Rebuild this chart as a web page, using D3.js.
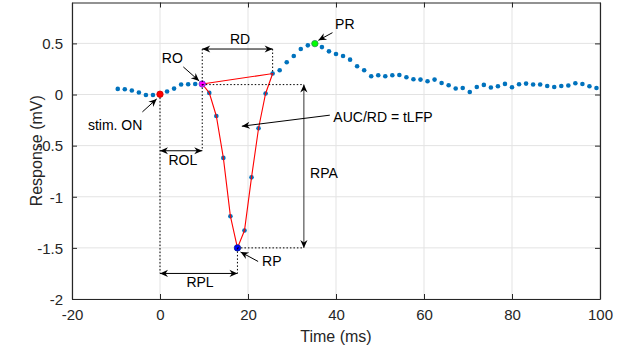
<!DOCTYPE html>
<html>
<head>
<meta charset="utf-8">
<script src="https://cdn.jsdelivr.net/npm/d3@7"></script>
<style>
  html, body { margin: 0; padding: 0; background: #fff; }
  svg { display: block; font-family: "Liberation Sans", Arial, Helvetica, sans-serif; }
</style>
</head>
<body>
<svg id="chart" width="626" height="347"></svg>
<script>
// ---- data ----
const times = [-9.6, -8.0, -6.4, -4.8, -3.2, -1.6, 0.0, 1.6, 3.2, 4.8, 6.4, 8.0, 9.6, 11.2, 12.8, 14.4,
  16.0, 17.6, 19.2, 20.8, 22.4, 24.0, 25.6, 27.2, 28.8, 30.4, 32.0, 33.6, 35.2, 36.8, 38.4, 40.0,
  41.6, 43.2, 44.8, 46.4, 48.0, 49.6, 51.2, 52.8, 54.4, 56.0, 57.6, 59.2, 60.8, 62.4, 64.0, 65.6,
  67.2, 68.8, 70.4, 72.0, 73.6, 75.2, 76.8, 78.4, 80.0, 81.6, 83.2, 84.8, 86.4, 88.0, 89.6, 91.2,
  92.8, 94.4, 96.0, 97.6, 99.2];
const response = [0.055, 0.052, 0.039, 0.020, -0.004, -0.004, 0.003, 0.029, 0.058, 0.098, 0.100, 0.103, 0.103, 0.016, -0.21, -0.62,
  -1.19, -1.50, -1.33, -0.81, -0.33, 0.010, 0.205, 0.237, 0.315, 0.377, 0.445, 0.481, 0.498, 0.464, 0.422, 0.396,
  0.377, 0.341, 0.276, 0.237, 0.179, 0.188, 0.179, 0.188, 0.191, 0.169, 0.149, 0.146, 0.130, 0.146, 0.113, 0.091,
  0.059, 0.064, 0.025, 0.074, 0.094, 0.068, 0.081, 0.104, 0.071, 0.100, 0.107, 0.098, 0.098, 0.084, 0.074, 0.084,
  0.088, 0.110, 0.103, 0.081, 0.064];
const xTicks = [-20, 0, 20, 40, 60, 80, 100];
const yTicks = [-2, -1.5, -1, -0.5, 0, 0.5];
const xDomain = [-20, 100];
const yDomain = [-2, 0.9];
// key event times (ms)
const stimTime = 0.0, roTime = 9.6, rpTime = 17.6, prTime = 35.2, responseEnd = 25.6;

// ---- layout ----
const svg = d3.select("#chart");
const L = 72, R = 600, T = 2.5, B = 299;
const x = d3.scaleLinear().domain(xDomain).range([L, R]);
const y = d3.scaleLinear().domain(yDomain).range([B, T]);
const axisColor = "#262626";

// grid
const grid = svg.append("g");
grid.selectAll("line.gx").data(xTicks).join("line")
  .attr("x1", d => x(d)).attr("x2", d => x(d)).attr("y1", T).attr("y2", B)
  .attr("stroke", "#e3e3e3").attr("stroke-width", 1);
grid.selectAll("line.gy").data(yTicks).join("line")
  .attr("y1", d => y(d)).attr("y2", d => y(d)).attr("x1", L).attr("x2", R)
  .attr("stroke", "#e3e3e3").attr("stroke-width", 1);

// axes
const fmt = d => String(d);
const xAxis = svg.append("g").attr("transform", `translate(0,${B})`)
  .call(d3.axisBottom(x).tickValues(xTicks).tickFormat(fmt).tickSizeInner(-5).tickSizeOuter(0).tickPadding(10));
const yAxis = svg.append("g").attr("transform", `translate(${L},0)`)
  .call(d3.axisLeft(y).tickValues(yTicks).tickFormat(fmt).tickSizeInner(-5).tickSizeOuter(0).tickPadding(9));
const xTop = svg.append("g").attr("transform", `translate(0,${T})`)
  .call(d3.axisTop(x).tickValues(xTicks).tickFormat("").tickSizeInner(-5).tickSizeOuter(0));
const yRight = svg.append("g").attr("transform", `translate(${R},0)`)
  .call(d3.axisRight(y).tickValues(yTicks).tickFormat("").tickSizeInner(-5).tickSizeOuter(0));
[xAxis, yAxis, xTop, yRight].forEach(g => {
  g.select(".domain").attr("stroke", axisColor).attr("stroke-width", 1.2);
  g.selectAll(".tick line").attr("stroke", axisColor);
  g.selectAll(".tick text").attr("fill", axisColor).attr("font-size", 15)
    .attr("font-family", "'Liberation Sans', Arial, sans-serif");
});
yAxis.selectAll(".tick text").attr("dy", "0.35em");

// axis labels
svg.append("text").attr("x", (L + R) / 2).attr("y", 342).attr("text-anchor", "middle")
  .attr("font-size", 16).attr("fill", axisColor).text("Time (ms)");
svg.append("text").attr("transform", `translate(42,${(T + B) / 2}) rotate(-90)`)
  .attr("text-anchor", "middle").attr("font-size", 16).attr("fill", axisColor).text("Response (mV)");

// ---- data points ----
const pts = times.map((t, i) => ({ t, v: response[i] }));
svg.append("g").selectAll("circle").data(pts).join("circle")
  .attr("cx", d => x(d.t)).attr("cy", d => y(d.v)).attr("r", 2.3).attr("fill", "#0072BD");

// red response polygon
const poly = pts.filter(d => d.t >= roTime - 0.01 && d.t <= responseEnd + 0.01);
svg.append("path")
  .attr("d", d3.line().x(d => x(d.t)).y(d => y(d.v))(poly.concat([poly[0]])))
  .attr("fill", "none").attr("stroke", "#ff0000").attr("stroke-width", 1.1);

const at = t => pts.find(d => Math.abs(d.t - t) < 0.01);
const special = [
  { p: at(stimTime), fill: "#ff0000", stroke: "#d00000" },
  { p: at(roTime), fill: "#ff00ff", stroke: "#6a3dc8" },
  { p: at(rpTime), fill: "#0000ff", stroke: "#00208a" },
  { p: at(prTime), fill: "#00ff00", stroke: "#2e8b57" }
];
svg.append("g").selectAll("circle").data(special).join("circle")
  .attr("cx", d => x(d.p.t)).attr("cy", d => y(d.p.v)).attr("r", 3.2)
  .attr("fill", d => d.fill).attr("stroke", d => d.stroke).attr("stroke-width", 0.8);

// ---- annotations ----
const ann = svg.append("g");
function dotted(x1, y1, x2, y2) {
  ann.append("line").attr("x1", x(x1)).attr("y1", y(y1)).attr("x2", x(x2)).attr("y2", y(y2))
    .attr("stroke", "#000").attr("stroke-width", 1).attr("stroke-dasharray", "1.5,2");
}
function head(px, py, ang) {
  const len = 8, w = 3.6, notch = 2.5;
  const c = Math.cos(ang), s = Math.sin(ang);
  const bx = px - c * len, by = py - s * len;
  const p = [
    [px, py],
    [bx - s * w, by + c * w],
    [px - c * (len - notch), py - s * (len - notch)],
    [bx + s * w, by - c * w]
  ];
  ann.append("path").attr("d", "M" + p.map(q => q.join(",")).join("L") + "Z").attr("fill", "#000");
}
function arrow(x1, y1, x2, y2, both, color) {
  const X1 = x(x1), Y1 = y(y1), X2 = x(x2), Y2 = y(y2);
  ann.append("line").attr("x1", X1).attr("y1", Y1).attr("x2", X2).attr("y2", Y2)
    .attr("stroke", color || "#000").attr("stroke-width", 1);
  const ang = Math.atan2(Y2 - Y1, X2 - X1);
  head(X2, Y2, ang);
  if (both) head(X1, Y1, ang + Math.PI);
}
function label(tx, ty, s, anchor) {
  ann.append("text").attr("x", x(tx)).attr("y", y(ty)).attr("dy", "0.35em")
    .attr("text-anchor", anchor || "middle").attr("font-size", 14).attr("fill", "#000").text(s);
}

const roV = at(roTime).v, rpV = at(rpTime).v, endV = at(responseEnd).v;
const rdY = 0.445, rolY = -0.55, rplY = -1.75, rpaX = 32.7, roLineV = 0.097;

// dotted guides
dotted(stimTime, -0.03, stimTime, rplY);
dotted(roTime, rdY, roTime, rolY);
dotted(responseEnd, rdY, responseEnd, endV);
dotted(roTime, roLineV, rpaX, roLineV);
dotted(rpTime, rpV, rpaX, rpV);
dotted(rpTime, rpV, rpTime, rplY);

// double arrows
arrow(roTime, rdY, responseEnd, rdY, true);
arrow(stimTime, rolY, roTime, rolY, true);
arrow(stimTime, rplY, rpTime, rplY, true);
arrow(rpaX, roLineV, rpaX, rpV, true, "#333");

// single arrows
arrow(5.3, 0.27, 8.9, 0.133);
arrow(39.2, 0.605, 36.0, 0.53);
arrow(-4.0, -0.17, -0.75, -0.043);
arrow(22.3, -1.633, 18.3, -1.54);
arrow(38.6, -0.202, 18.6, -0.31);

// labels
label(18.2, 0.54, "RD");
label(2.8, 0.357, "RO");
label(42.0, 0.686, "PR");
label(-10.2, -0.30, "stim. ON");
label(5.2, -0.64, "ROL");
label(9.1, -1.83, "RPL");
label(23.2, -1.63, "RP", "start");
label(34.1, -0.77, "RPA", "start");
label(39.4, -0.22, "AUC/RD = tLFP", "start");
</script>
</body>
</html>
